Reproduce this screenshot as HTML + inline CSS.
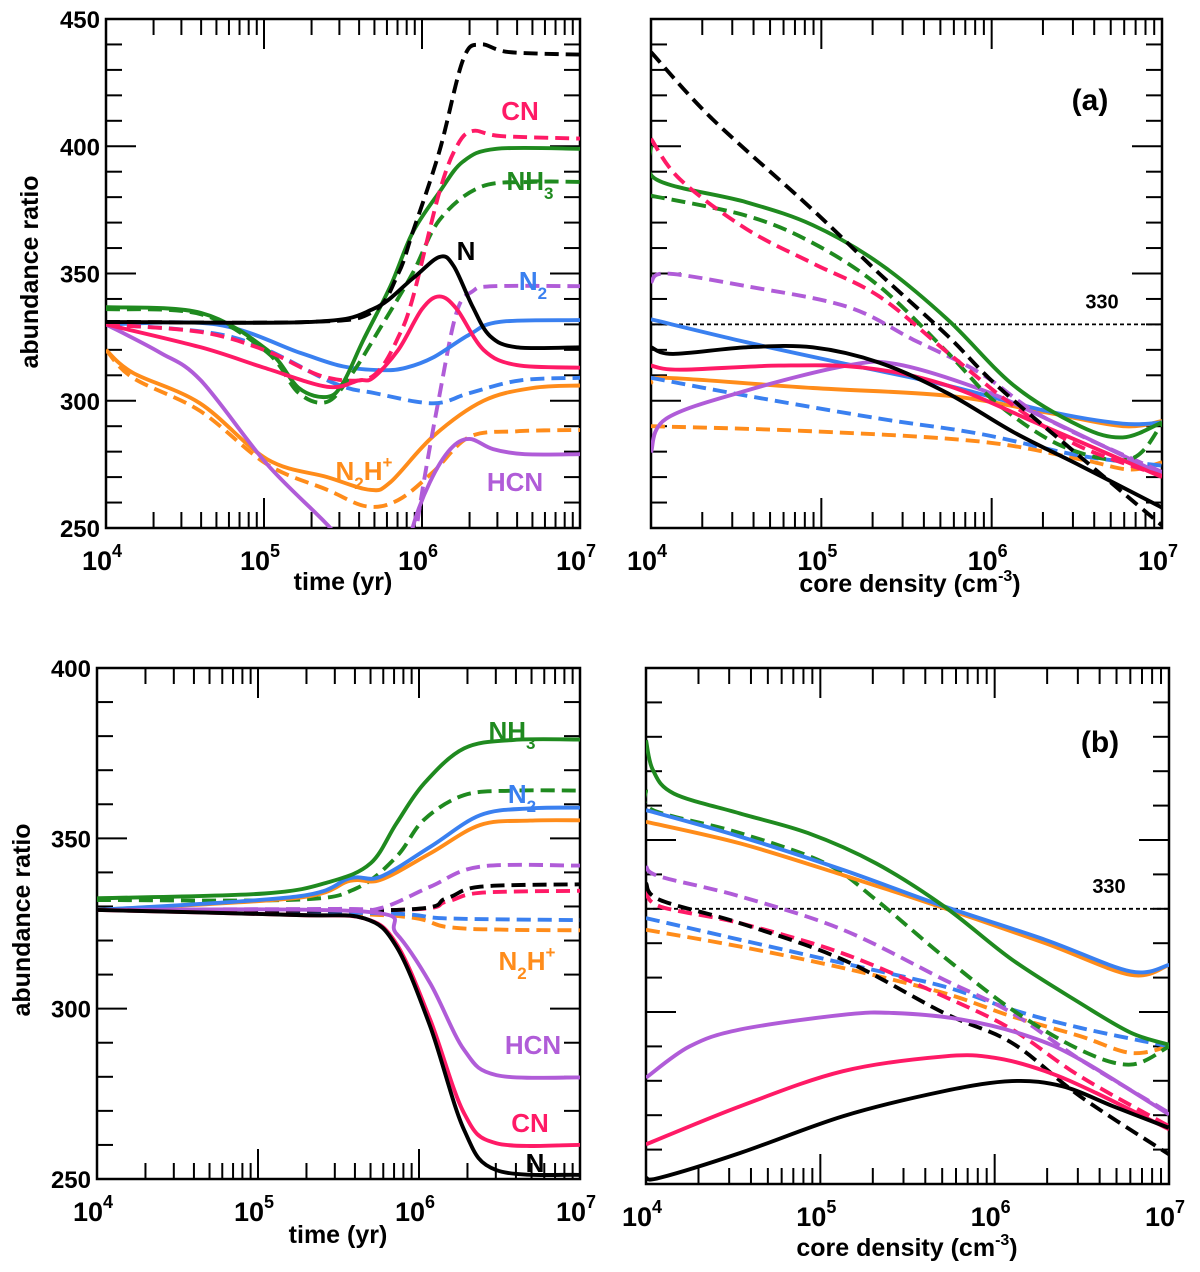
<!DOCTYPE html>
<html><head><meta charset="utf-8"><style>
body{margin:0;background:#fff}
svg{display:block;font-family:"Liberation Sans",sans-serif;font-weight:bold}
</style></head><body>
<svg id="fig" width="1200" height="1272" viewBox="0 0 1200 1272" xmlns="http://www.w3.org/2000/svg"></svg>
<script>
// ---- data: [log10 x, ratio] ----
const C={N:"#000",CN:"#ff1a66",NH3:"#1f8a1f",N2:"#3a80f0",HCN:"#b05cd8",N2H:"#ff8c1a"};
// Panel a-left (time)
const aL_N_s=[[4,331],[5.3,331],[5.69,336],[5.94,348],[6.11,356.5],[6.2,353],[6.32,337],[6.43,325.5],[6.6,321],[7,321]];
const aL_N_d=[[4,331],[5.3,331],[5.69,335],[5.85,350],[5.94,366],[6.11,398],[6.26,434],[6.37,440],[6.55,437],[7,436]];
const aL_CN_s=[[4,330],[4.6,321],[5.0,313],[5.4,305.5],[5.6,308],[5.69,309],[5.85,320],[6.0,336],[6.11,341],[6.22,336],[6.39,320],[6.6,314],[7,313]];
const aL_CN_d=[[4,330],[4.6,327],[5.0,320],[5.35,310],[5.6,308],[5.73,312],[5.85,325],[5.94,340],[6.11,382],[6.22,400],[6.32,406],[6.5,404],[7,403]];
const aL_NH3_s=[[4,336.8],[4.6,334.5],[5.02,320],[5.22,305],[5.4,301.5],[5.5,307],[5.63,324],[5.8,345],[5.94,366],[6.11,382],[6.26,394],[6.47,399],[7,399]];
const aL_NH3_d=[[4,336],[4.6,334],[5.02,319],[5.22,303],[5.4,299.6],[5.55,310],[5.73,328],[5.94,350],[6.11,371],[6.37,384],[6.7,386],[7,386]];
const aL_N2_s=[[4,330],[4.7,330],[5.23,318.8],[5.5,313.5],[5.75,312],[5.9,313],[6.07,317],[6.3,326],[6.49,331],[7,331.7]];
const aL_N2_d=[[4,330],[4.8,325],[5.44,307],[5.7,303],[6.07,299],[6.3,303],[6.62,308],[7,309]];
const aL_HCN_s=[[4,330],[4.34,319],[4.6,308],[5.02,275],[5.42,250],[5.6,235]];
const aL_HCN_s2=[[5.88,230],[5.94,250],[6.05,268],[6.18,281],[6.3,285],[6.45,281],[6.65,279],[7,279]];
const aL_HCN_d=[[5.9,220],[5.99,260],[6.11,302],[6.22,335],[6.32,343],[6.45,345],[7,345]];
const aL_N2H_s=[[4,320],[4.17,311],[4.595,299],[5.02,277],[5.4,270],[5.67,265],[5.8,268],[6.07,286],[6.39,300],[6.7,305],[7,306]];
const aL_N2H_d=[[4,320],[4.17,309],[4.595,296],[5.02,275],[5.4,265],[5.65,258.5],[5.85,261],[6.07,272],[6.3,285.8],[6.6,288],[7,288.5]];
// Panel a-right (density)
const aR_N_d=[[4,437],[4.36,410.7],[4.95,375],[5.34,350],[5.74,325.6],[6.03,306],[6.52,278],[7,251]];
const aR_N_s=[[4,321],[4.13,318.4],[4.56,321],[4.95,321],[5.34,315],[5.74,303],[6.13,287.6],[6.52,274.5],[7,258]];
const aR_CN_d=[[4,403],[4.17,387],[4.56,367.5],[4.95,354],[5.34,341],[5.74,319],[6.13,298],[6.52,282],[7,270.5]];
const aR_CN_s=[[4,313.8],[4.17,312.2],[4.75,313.8],[5.25,313],[5.74,306],[6.32,289.6],[7,270]];
const aR_NH3_s=[[4,400],[4.03,387],[4.56,378],[4.95,369],[5.34,354],[5.74,332],[6.13,306],[6.52,290],[6.77,285.6],[7,291.5]];
const aR_NH3_d=[[4,380.6],[4.56,372.7],[4.95,362],[5.34,345],[5.74,319],[6.03,299],[6.42,282],[6.81,277],[7,291]];
const aR_HCN_d=[[4,346.5],[4.09,350],[4.56,345],[5.15,337],[5.54,324],[5.93,311],[6.32,293],[7,272]];
const aR_HCN_s=[[4,279.7],[4.09,293],[4.56,304],[5.15,313.8],[5.44,314.4],[5.93,304.6],[6.32,293],[7,271]];
const aR_N2_s=[[4,332],[4.56,323],[5.15,314.4],[5.74,306],[6.32,296],[6.77,291],[7,291.5]];
const aR_N2_d=[[4,309],[4.56,302],[5.34,293],[5.93,287],[6.52,278.4],[7,274.5]];
const aR_N2H_s=[[4,307],[4.09,309],[4.95,305],[5.74,302],[6.32,295.4],[6.77,290],[7,292]];
const aR_N2H_d=[[4,290],[4.95,288],[5.93,284],[6.52,277],[6.81,273],[7,275.8]];
// Panel b-left (time)
const bL_NH3_s=[[4,332.4],[5.04,333.8],[5.45,337.3],[5.7,342.7],[5.86,354.4],[6.03,366],[6.28,376.4],[6.59,378.9],[7,379]];
const bL_NH3_d=[[4,331.9],[5.24,332],[5.61,335.3],[5.86,344.6],[6.03,355.4],[6.28,362.7],[6.59,364],[7,364]];
const bL_N2_s=[[4,329],[5.24,332.9],[5.57,338.3],[5.76,338.7],[6.07,347.5],[6.38,356.8],[6.69,358.8],[7,359]];
const bL_N2H_s=[[4,329],[5.24,332.5],[5.57,337.5],[5.76,337.8],[6.07,345.6],[6.38,353.9],[6.69,355.2],[7,355.3]];
const bL_HCN_d=[[4,329],[5.5,329.3],[5.76,329.5],[6.07,335.8],[6.38,341.7],[7,342]];
const bL_N_d=[[4,329],[5.86,329],[6.17,332.4],[6.38,335.8],[7,336.5]];
const bL_CN_d=[[4,329],[5.86,329],[6.17,331.4],[6.38,334],[7,334.6]];
const bL_N2_d=[[4,329],[5.76,328],[6.17,326.5],[7,326]];
const bL_N2H_d=[[4,329],[5.76,327.5],[6.17,324],[6.5,323.2],[7,323]];
const bL_HCN_s=[[4,329],[5.66,328.5],[5.86,322],[6.07,307.4],[6.28,287.9],[6.48,280.5],[7,279.8]];
const bL_CN_s=[[4,329],[5.24,327.5],[5.66,326.5],[5.86,319],[6.07,296.7],[6.28,269.3],[6.48,260.5],[7,260]];
const bL_N_s=[[4,329],[5.24,327.5],[5.66,326.5],[5.86,318.2],[6.07,294.7],[6.28,264.4],[6.48,252.6],[7,251.2]];
// Panel b-right (density)
const bR_NH3_s=[[4,379],[4.04,370.3],[4.16,363.5],[4.54,357.7],[4.93,352],[5.32,343.2],[5.71,330.7],[6.1,315.2],[6.49,302.6],[6.78,294],[7,290.5]];
const bR_NH3_d=[[4,364.5],[4.04,358.7],[4.54,352],[5.03,343.2],[5.32,332.6],[5.71,316],[6.1,300.7],[6.49,289],[6.78,284.7],[7,290]];
const bR_N2_s=[[4,358.7],[4.54,351],[5.13,341.3],[5.71,330.7],[6.29,321],[6.78,311.8],[7,313.7]];
const bR_N2H_s=[[4,355.3],[4.54,349],[5.13,339.8],[5.71,330.2],[6.29,320],[6.78,310.8],[7,313.7]];
const bR_HCN_d=[[4,342.3],[4.08,339.4],[4.54,333.6],[5.13,323.9],[5.71,309.4],[6.1,299.7],[6.49,286.2],[7,270.7]];
const bR_N_d=[[4,337.4],[4.08,332.6],[4.54,325.8],[5.13,315.2],[5.71,299.7],[6.1,291],[6.49,275.5],[7,258.6]];
const bR_CN_d=[[4,335.5],[4.08,330.7],[4.54,325.8],[5.13,317],[5.71,304.5],[6.1,294.9],[6.49,281.3],[7,266.8]];
const bR_N2_d=[[4,327.3],[4.54,321],[5.13,314.2],[5.71,307.4],[6.1,300.7],[6.49,295.4],[7,290]];
const bR_N2H_d=[[4,323.9],[4.54,319],[5.13,312.8],[5.71,305.5],[6.1,298.7],[6.49,293],[6.78,288.1],[7,290]];
const bR_HCN_s=[[4,280.9],[4.25,290],[4.54,294.9],[5.13,299.2],[5.42,299.7],[5.81,297.8],[6.19,293],[6.49,286.2],[7,270.2]];
const bR_CN_s=[[4,261.5],[4.54,272.6],[5.13,282.8],[5.71,287.1],[6.0,286.7],[6.29,282.8],[6.58,276.5],[7,265.9]];
const bR_N_s=[[4,251.8],[4.08,251.8],[4.54,259],[5.13,269.7],[5.71,277],[6.1,279.9],[6.39,278.4],[6.68,272.6],[7,266.3]];

const svg=document.getElementById('fig');
const NS="http://www.w3.org/2000/svg";
function mk(tag,attrs,parent){const e=document.createElementNS(NS,tag);for(const k in attrs)e.setAttribute(k,attrs[k]);(parent||svg).appendChild(e);return e;}
function txt(x,y,s,size,anchor,fill,parent){const t=mk('text',{x:x,y:y,'font-size':size,'text-anchor':anchor||'middle',fill:fill||'#000'},parent);t.innerHTML=s;return t;}

const panels=[
 {id:'a-left',x0:106,x1:580,y0:19,y1:528,ymin:250,ymax:450,ylab:true},
 {id:'a-right',x0:651,x1:1162,y0:19,y1:528,ymin:250,ymax:450,ylab:false},
 {id:'b-left',x0:97,x1:580,y0:668,y1:1179,ymin:250,ymax:400,ylab:true},
 {id:'b-right',x0:646,x1:1169,y0:668,y1:1184,ymin:250,ymax:400,ylab:false}
];
panels.forEach(p=>{p.sx=v=>p.x0+(v-4)/3*(p.x1-p.x0);p.sy=v=>p.y1-(v-p.ymin)/(p.ymax-p.ymin)*(p.y1-p.y0);});

function smooth(pts){let d='M'+pts[0][0].toFixed(1)+','+pts[0][1].toFixed(1);
 for(let i=0;i<pts.length-1;i++){const p0=pts[i-1]||pts[i],p1=pts[i],p2=pts[i+1],p3=pts[i+2]||p2;
  const c1=[p1[0]+(p2[0]-p0[0])/6,p1[1]+(p2[1]-p0[1])/6],c2=[p2[0]-(p3[0]-p1[0])/6,p2[1]-(p3[1]-p1[1])/6];
  d+=` C${c1[0].toFixed(1)},${c1[1].toFixed(1)} ${c2[0].toFixed(1)},${c2[1].toFixed(1)} ${p2[0].toFixed(1)},${p2[1].toFixed(1)}`;}
 return d;}

function frame(p){
 const g=mk('g',{});
 
 
 const cp=mk('clipPath',{id:'clip-'+p.id});mk('rect',{x:p.x0,y:p.y0,width:p.x1-p.x0,height:p.y1-p.y0},cp);
 mk('rect',{x:p.x0,y:p.y0,width:p.x1-p.x0,height:p.y1-p.y0,fill:'none',stroke:'#000','stroke-width':2.5},g);
 for(let v=p.ymin;v<=p.ymax;v+=10){const y=p.sy(v);const major=(v%50===0);const L=major?30:16;
  mk('line',{x1:p.x0,y1:y,x2:p.x0+L,y2:y,stroke:'#000','stroke-width':2},g);
  mk('line',{x1:p.x1,y1:y,x2:p.x1-L,y2:y,stroke:'#000','stroke-width':2},g);
  if(major&&p.ylab)txt(p.x0-6,y+9,String(v),24,'end','#000',g);}
 for(let d=4;d<7;d++)for(let m=1;m<10;m++){const v=d+Math.log10(m);const x=p.sx(v);const L=m===1?30:16;
  mk('line',{x1:x,y1:p.y1,x2:x,y2:p.y1-L,stroke:'#000','stroke-width':2},g);
  mk('line',{x1:x,y1:p.y0,x2:x,y2:p.y0+L,stroke:'#000','stroke-width':2},g);}
 for(let d=4;d<=7;d++){const x=p.sx(d);const t=txt(x-4,p.y1+42,'10<tspan font-size="18" dy="-13">'+d+'</tspan>',27,'middle','#000',g);
  }
 return g;
}
function series(p,data,color,dashed,name){
 const pts=data.map(d=>[p.sx(d[0]),p.sy(d[1])]);
 const e=mk('path',{d:smooth(pts),fill:'none',stroke:color,'stroke-width':3.9,'stroke-linecap':'butt','stroke-dasharray':dashed?'14 7':'none','clip-path':'url(#clip-'+p.id+')'});
 
 
}
function hline330(p){const y=p.sy(330);const e=mk('line',{x1:p.x0,y1:y,x2:p.x1,y2:y,stroke:'#000','stroke-width':1.8,'stroke-dasharray':'4 3'});
 
 const t=txt(p.x1-60,y-16,'330',20,'middle');}

const [aL,aR,bL,bR]=panels;
panels.forEach(frame);
series(aL,aL_N2H_d,C.N2H,1,'n2h-dashed');series(aL,aL_N2H_s,C.N2H,0,'n2h-solid');
series(aL,aL_HCN_s,C.HCN,0,'hcn-solid');series(aL,aL_HCN_s2,C.HCN,0,'hcn-solid-late');series(aL,aL_HCN_d,C.HCN,1,'hcn-dashed');
series(aL,aL_N2_d,C.N2,1,'n2-dashed');series(aL,aL_N2_s,C.N2,0,'n2-solid');
series(aL,aL_NH3_d,C.NH3,1,'nh3-dashed');series(aL,aL_NH3_s,C.NH3,0,'nh3-solid');
series(aL,aL_CN_d,C.CN,1,'cn-dashed');series(aL,aL_CN_s,C.CN,0,'cn-solid');
series(aL,aL_N_d,C.N,1,'n-dashed');series(aL,aL_N_s,C.N,0,'n-solid');
hline330(aR);
series(aR,aR_N2H_d,C.N2H,1,'n2h-dashed');series(aR,aR_N2H_s,C.N2H,0,'n2h-solid');
series(aR,aR_N2_d,C.N2,1,'n2-dashed');series(aR,aR_N2_s,C.N2,0,'n2-solid');
series(aR,aR_HCN_d,C.HCN,1,'hcn-dashed');series(aR,aR_HCN_s,C.HCN,0,'hcn-solid');
series(aR,aR_NH3_d,C.NH3,1,'nh3-dashed');series(aR,aR_NH3_s,C.NH3,0,'nh3-solid');
series(aR,aR_CN_d,C.CN,1,'cn-dashed');series(aR,aR_CN_s,C.CN,0,'cn-solid');
series(aR,aR_N_d,C.N,1,'n-dashed');series(aR,aR_N_s,C.N,0,'n-solid');
series(bL,bL_N2H_d,C.N2H,1,'n2h-dashed');series(bL,bL_N2_d,C.N2,1,'n2-dashed');series(bL,bL_CN_d,C.CN,1,'cn-dashed');
series(bL,bL_N_d,C.N,1,'n-dashed');series(bL,bL_HCN_d,C.HCN,1,'hcn-dashed');
series(bL,bL_NH3_d,C.NH3,1,'nh3-dashed');series(bL,bL_N2H_s,C.N2H,0,'n2h-solid');series(bL,bL_N2_s,C.N2,0,'n2-solid');series(bL,bL_NH3_s,C.NH3,0,'nh3-solid');
series(bL,bL_HCN_s,C.HCN,0,'hcn-solid');series(bL,bL_CN_s,C.CN,0,'cn-solid');series(bL,bL_N_s,C.N,0,'n-solid');
hline330(bR);
series(bR,bR_N2H_d,C.N2H,1,'n2h-dashed');series(bR,bR_N2_d,C.N2,1,'n2-dashed');series(bR,bR_CN_d,C.CN,1,'cn-dashed');
series(bR,bR_N_d,C.N,1,'n-dashed');series(bR,bR_HCN_d,C.HCN,1,'hcn-dashed');series(bR,bR_NH3_d,C.NH3,1,'nh3-dashed');
series(bR,bR_N2H_s,C.N2H,0,'n2h-solid');series(bR,bR_N2_s,C.N2,0,'n2-solid');series(bR,bR_NH3_s,C.NH3,0,'nh3-solid');
series(bR,bR_HCN_s,C.HCN,0,'hcn-solid');series(bR,bR_CN_s,C.CN,0,'cn-solid');series(bR,bR_N_s,C.N,0,'n-solid');

function lab(x,y,s,color,size,name){const t=txt(x,y,s,size||26,'middle',color);}
const yt1=txt(0,0,'abundance ratio',25,'middle');yt1.setAttribute('transform','translate(38,272) rotate(-90)');
const yt2=txt(0,0,'abundance ratio',25,'middle');yt2.setAttribute('transform','translate(30,920) rotate(-90)');
lab(343,590,'time (yr)','#000',25,'x-axis-title-time-top');
lab(338,1243,'time (yr)','#000',25,'x-axis-title-time-bottom');
lab(910,592,'core density (cm<tspan font-size="16" dy="-11">-3</tspan><tspan dy="11">)</tspan>','#000',25,'x-axis-title-density-top');
lab(907,1256,'core density (cm<tspan font-size="16" dy="-11">-3</tspan><tspan dy="11">)</tspan>','#000',25,'x-axis-title-density-bottom');
lab(1090,110,'(a)','#000',30,'panel-label-a');
lab(1100,752,'(b)','#000',30,'panel-label-b');
lab(520,120,'CN',C.CN,26,'label-cn-a');
lab(530,190,'NH<tspan font-size="17" dy="9">3</tspan>',C.NH3,26,'label-nh3-a');
lab(466,260,'N',C.N,26,'label-n-a');
lab(533,290,'N<tspan font-size="17" dy="9">2</tspan>',C.N2,26,'label-n2-a');
lab(364,480,'N<tspan font-size="17" dy="9">2</tspan><tspan dy="-9">H</tspan><tspan font-size="17" dy="-12">+</tspan>',C.N2H,26,'label-n2h-a');
lab(515,491,'HCN',C.HCN,26,'label-hcn-a');
lab(512,740,'NH<tspan font-size="17" dy="9">3</tspan>',C.NH3,26,'label-nh3-b');
lab(522,803,'N<tspan font-size="17" dy="9">2</tspan>',C.N2,26,'label-n2-b');
lab(527,970,'N<tspan font-size="17" dy="9">2</tspan><tspan dy="-9">H</tspan><tspan font-size="17" dy="-12">+</tspan>',C.N2H,26,'label-n2h-b');
lab(533,1054,'HCN',C.HCN,26,'label-hcn-b');
lab(530,1132,'CN',C.CN,26,'label-cn-b');
lab(535,1172,'N',C.N,26,'label-n-b');
</script>
</body></html>
